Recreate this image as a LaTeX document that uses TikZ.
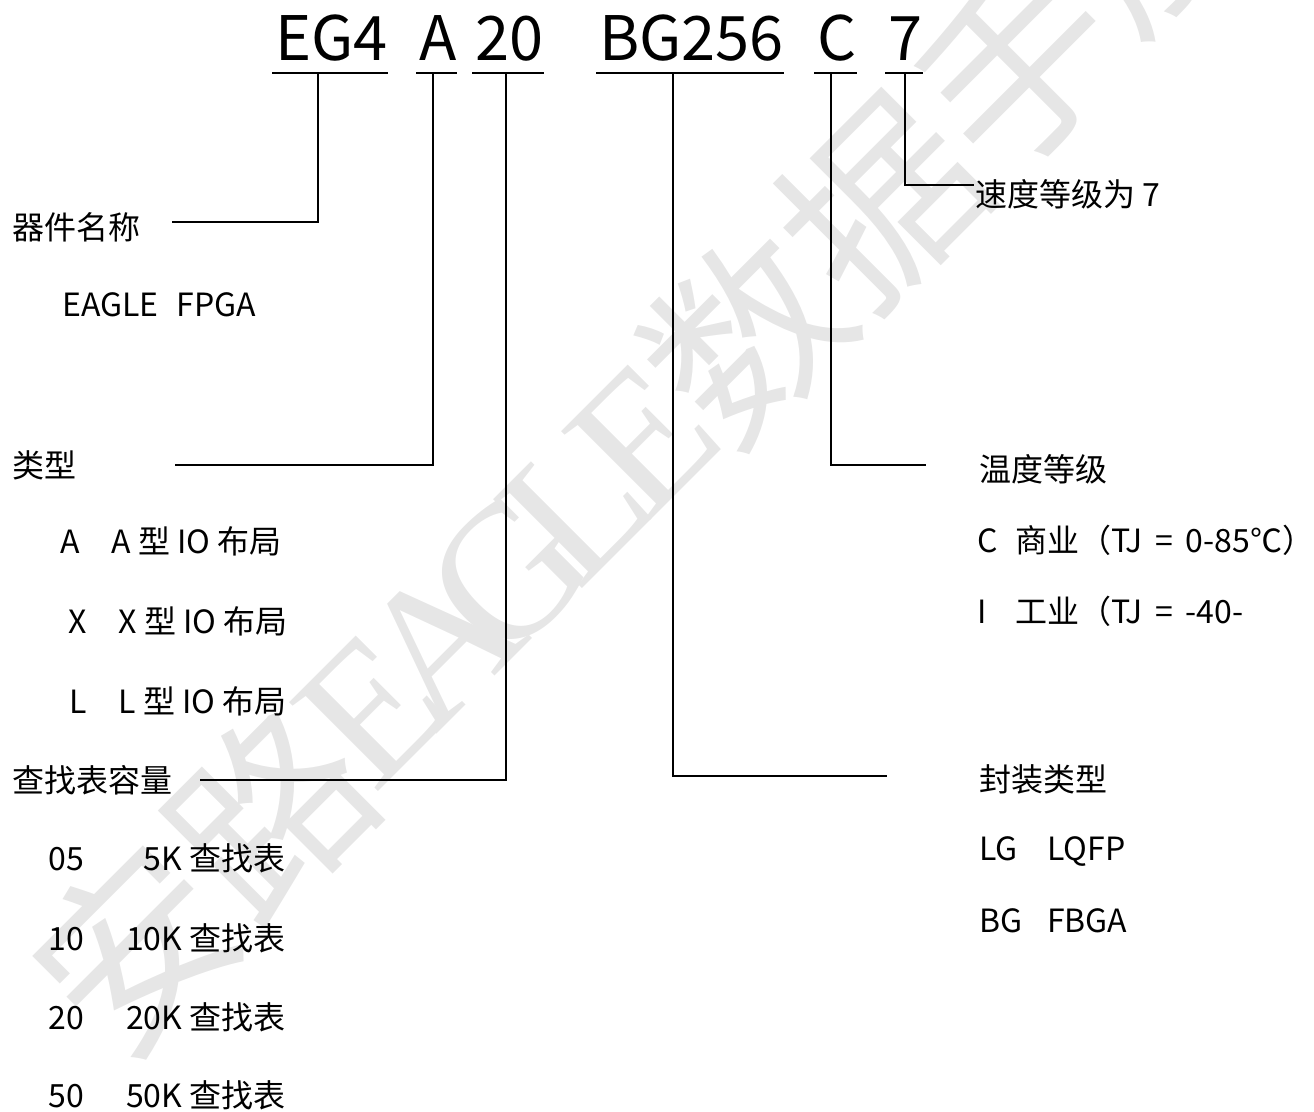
\documentclass[tikz,border=0pt]{standalone}
\usepackage{fontspec}
\setmainfont{Noto Sans CJK SC}
\newfontfamily\markserif{Liberation Serif}
\definecolor{markgray}{HTML}{E6E6E6}
\tikzset{
  code/.style={anchor=base west, inner sep=0pt, font=\fontsize{46}{46}\selectfont},
  lbl/.style={anchor=base west, inner sep=0pt, font=\fontsize{24}{24}\selectfont},
  wire/.style={line width=1.5pt},
  wmark/.style={rotate=45, inner sep=0pt, text=markgray, font=\fontsize{144}{144}\selectfont}
}
\newcommand{\lutrow}[4]{%
  \node[lbl] (#1) at (48,#2) {\makebox[60pt][l]{#3}\makebox[40.5pt][r]{#4} 查找表};
}

\begin{document}
\begin{tikzpicture}[x=0.75pt, y=-0.75pt]
  \useasboundingbox (0,0) rectangle (1314,1111);

  % ---------- watermark ----------
  \begin{scope}
    \clip (0,0) rectangle (1314,1111);
    \foreach \ch/\k in {安/-1.75, 路/-0.75, 数/2.75, 据/3.75, 手/4.75, 册/5.75}
      \node[wmark] at ({372+135.8*\k},{710-135.8*\k}) {\ch};
    \foreach \ch/\k in {E/0, A/0.5, G/1, L/1.5, E/2}
      \node[wmark, font=\markserif\fontsize{144}{144}\selectfont] at ({372+135.8*\k},{710-135.8*\k}) {\ch};
  \end{scope}

  % ---------- part number ----------
  \node[code] (eg)  at (275,60) {EG4};
  \node[code] (a)   at (419,60) {A};
  \node[code] (lut) at (475,60) {20};
  \node[code] (bg)  at (599,60) {BG256};
  \node[code] (c)   at (817,60) {C};
  \node[code] (sp)  at (888,60) {7};
  \foreach \n in {eg,a,lut,bg,c,sp}
    \draw[wire] ([shift={(-3,13)}]\n.base west) -- ([shift={(0,13)}]\n.base east);

  % ---------- left labels ----------
  \node[lbl] (name)    at (12,239) {器件名称};
  \node[lbl] (name-v)  at (62,316) {\makebox[86pt][l]{EAGLE}FPGA};
  \node[lbl] (type)    at (12,477) {类型};
  \node[lbl] (type-a)  at (60,553) {A\quad A 型 IO 布局};
  \node[lbl] (type-x)  at (68,633) {X\quad X 型 IO 布局};
  \node[lbl] (type-l)  at (69,713) {L\quad L 型 IO 布局};
  \node[lbl] (lutsize) at (12,792) {查找表容量};
  \lutrow{lut-05}{870}{05}{5K}
  \lutrow{lut-10}{950}{10}{10K}
  \lutrow{lut-20}{1029}{20}{20K}
  \lutrow{lut-50}{1107}{50}{50K}

  % ---------- right labels ----------
  \node[lbl] (speed)  at (975,206) {速度等级为 7};
  \node[lbl] (temp)   at (979,481) {温度等级};
  \node[lbl] (temp-c) at (977,552) {\makebox[28.5pt][l]{C}商业（TJ \,=\, 0-85℃）};
  \node[lbl] (temp-i) at (977,623) {\makebox[28.5pt][l]{I}工业（TJ \,=\, -40-};
  \node[lbl] (pkg)    at (979,791) {封装类型};
  \node[lbl] (pkg-lg) at (979,860) {\makebox[51pt][l]{LG}LQFP};
  \node[lbl] (pkg-bg) at (979,932) {\makebox[51pt][l]{BG}FBGA};

  % ---------- leader lines ----------
  \coordinate (eg-tick)  at (318,73);  \coordinate (name-end)  at (172,222);
  \coordinate (a-tick)   at (433,73);  \coordinate (type-end)  at (175,465);
  \coordinate (lut-tick) at (506,73);  \coordinate (lut-end)   at (200,780);
  \coordinate (bg-tick)  at (673,73);  \coordinate (pkg-end)   at (887,776);
  \coordinate (c-tick)   at (831,73);  \coordinate (temp-end)  at (926,465);
  \coordinate (sp-tick)  at (905,73);  \coordinate (speed-end) at (974,185);
  \draw[wire] (eg-tick)  |- (name-end);
  \draw[wire] (a-tick)   |- (type-end);
  \draw[wire] (lut-tick) |- (lut-end);
  \draw[wire] (bg-tick)  |- (pkg-end);
  \draw[wire] (c-tick)   |- (temp-end);
  \draw[wire] (sp-tick)  |- (speed-end);
\end{tikzpicture}
\end{document}
